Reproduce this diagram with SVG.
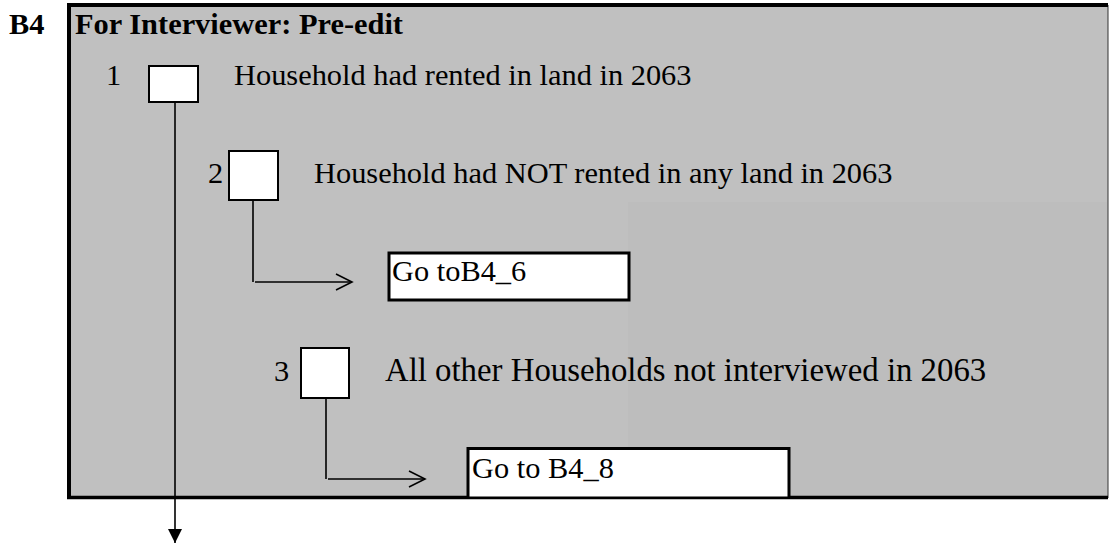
<svg xmlns="http://www.w3.org/2000/svg" width="1109" height="544" viewBox="0 0 1109 544">
<style>
.t{font-family:"Liberation Serif","Times New Roman",serif;font-size:30.4px;fill:#000}
.b{font-weight:bold}
.cb{fill:#fff;stroke:#000;stroke-width:2}
.gb{fill:#fff;stroke:#000;stroke-width:3}
.ln{fill:none;stroke:#000;stroke-width:1.6}
</style>
<defs>
<marker id="open" markerUnits="userSpaceOnUse" markerWidth="20" markerHeight="20" refX="17" refY="10" orient="auto">
<path d="M1,2 L17,10 L1,18" fill="none" stroke="#000" stroke-width="1.6"/>
</marker>
<marker id="solid" markerUnits="userSpaceOnUse" markerWidth="16" markerHeight="16" refX="14" refY="8" orient="auto">
<path d="M0,1 L14,8 L0,15 Z" fill="#000"/>
</marker>
</defs>
<rect width="1109" height="544" fill="#fff"/>
<g id="panel">
<rect x="69" y="5" width="1039" height="493" fill="#c0c0c0"/>
<rect x="628" y="202" width="479" height="295" fill="#bdbdbd"/>
<path d="M1108,5 V498" stroke="#333" stroke-width="1"/>
<path d="M69,3 V499" stroke="#000" stroke-width="4"/>
<path d="M67,5 H1108" stroke="#000" stroke-width="4"/>
<path d="M67,497.5 H1108" stroke="#000" stroke-width="3.5"/>
<text class="t b" x="9" y="34">B4</text>
<text class="t b" x="75" y="34">For Interviewer: Pre-edit</text>
</g>
<g id="option1">
<text class="t" x="106" y="85">1</text>
<rect class="cb" x="149" y="66" width="49" height="36"/>
<text class="t" x="234" y="85">Household had rented in land in 2063</text>
</g>
<g id="option2">
<text class="t" x="208" y="183">2</text>
<rect class="cb" x="229" y="151" width="49" height="49"/>
<text class="t" x="314" y="183">Household had NOT rented in any land in 2063</text>
</g>
<g id="goto6">
<rect class="gb" x="389" y="253" width="240" height="47"/>
<text class="t" x="392" y="281">Go toB4_6</text>
</g>
<g id="option3">
<text class="t" x="274" y="381">3</text>
<rect class="cb" x="301" y="348" width="48" height="50"/>
<text class="t" x="385" y="381" style="font-size:32.8px">All other Households not interviewed in 2063</text>
</g>
<g id="goto8">
<rect x="468" y="448.5" width="321" height="48" fill="#fff"/>
<path d="M468,497 V448.5 H789 V497" fill="none" stroke="#000" stroke-width="3"/>
<text class="t" x="472" y="478">Go to B4_8</text>
</g>
<g id="connectors">
<path class="ln" d="M175,102 V543" marker-end="url(#solid)"/>
<path class="ln" d="M253,200 V282 M255,282 H352" marker-end="url(#open)"/>
<path class="ln" d="M326,398 V479 M328,479 H425" marker-end="url(#open)"/>
</g>
</svg>
